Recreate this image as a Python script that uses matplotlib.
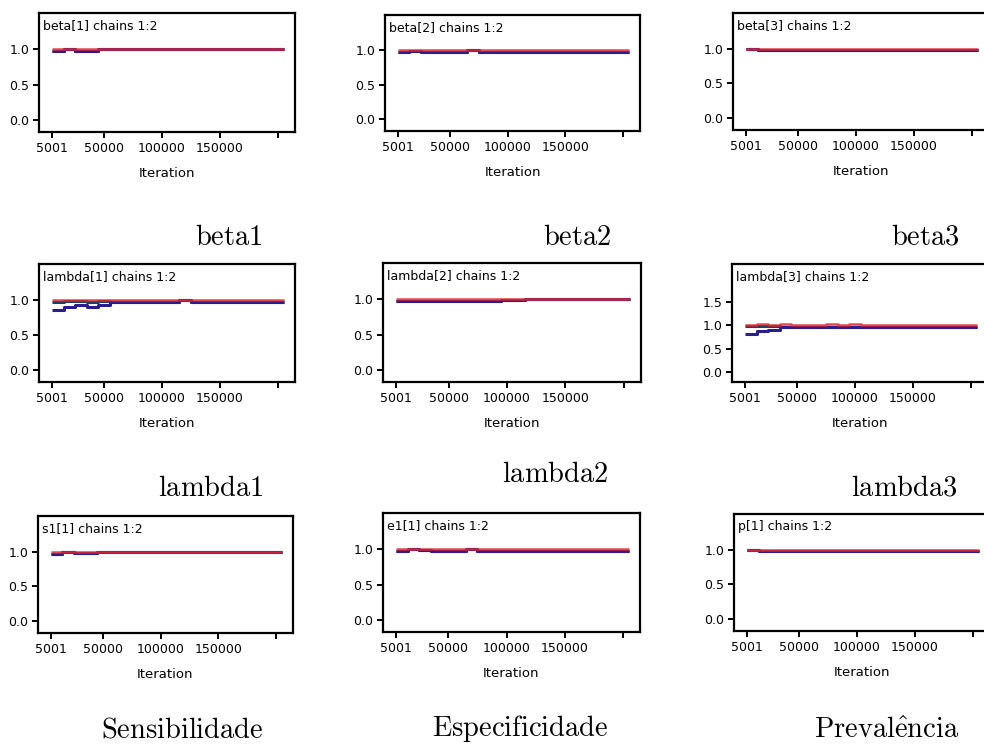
import matplotlib
matplotlib.use("Agg")
import matplotlib.pyplot as plt

plt.rcParams['mathtext.fontset'] = 'cm'

# ---------------- data ----------------
ITER = [5001, 15000, 25000, 35000, 45000, 55000, 65000, 75000, 85000, 95000, 105000,
        115000, 125000, 135000, 145000, 155000, 165000, 175000, 185000, 195000, 205000]

XTICKS = [5001, 50000, 100000, 150000, 200000]
XTICKLABELS = ["5001", "50000", "100000", "150000", ""]
YTICKS_STD = [0.0, 0.5, 1.0]
YTICKS_L3 = [0.0, 0.5, 1.0, 1.5]

TITLES = ["beta[1] chains 1:2", "beta[2] chains 1:2", "beta[3] chains 1:2",
          "lambda[1] chains 1:2", "lambda[2] chains 1:2", "lambda[3] chains 1:2",
          "s1[1] chains 1:2", "e1[1] chains 1:2", "p[1] chains 1:2"]
CAPTIONS = [r"$\mathrm{beta1}$", r"$\mathrm{beta2}$", r"$\mathrm{beta3}$",
            r"$\mathrm{lambda1}$", r"$\mathrm{lambda2}$", r"$\mathrm{lambda3}$",
            r"$\mathrm{Sensibilidade}$", r"$\mathrm{Especificidade}$", r"$\mathrm{Preval\hat{e}ncia}$"]

# BGR ratio (red), within-width (blue), pooled-width (green)
beta1_red   = [1.0, 1.0, 1.0, 1.0, 1.0, 1.0, 1.0, 1.0, 1.0, 1.0, 1.0, 1.0, 1.0, 1.0, 1.0, 1.0, 1.0, 1.0, 1.0, 1.0, 1.0]
beta1_blue  = [0.97, 1.0, 0.97, 0.98, 1.0, 1.0, 1.0, 1.0, 1.0, 1.0, 1.0, 1.0, 1.0, 1.0, 1.0, 1.0, 1.0, 1.0, 1.0, 1.0, 1.0]
beta1_green = beta1_blue

beta2_red   = [1.0, 1.0, 1.0, 1.0, 1.0, 1.0, 1.0, 1.0, 1.0, 1.0, 1.0, 1.0, 1.0, 1.0, 1.0, 1.0, 1.0, 1.0, 1.0, 1.0, 1.0]
beta2_blue  = [0.98, 0.99, 0.975, 0.975, 0.975, 0.975, 1.0, 0.975, 0.975, 0.975, 0.975, 0.975, 0.975, 0.975, 0.975, 0.975, 0.975, 0.975, 0.975, 0.975, 0.975]
beta2_green = beta2_blue

beta3_red   = [1.0, 1.0, 1.0, 1.0, 1.0, 1.0, 1.0, 1.0, 1.0, 1.0, 1.0, 1.0, 1.0, 1.0, 1.0, 1.0, 1.0, 1.0, 1.0, 1.0, 1.0]
beta3_blue  = [0.99, 0.975, 0.975, 0.975, 0.975, 0.975, 0.975, 0.975, 0.975, 0.975, 0.975, 0.975, 0.975, 0.975, 0.975, 0.975, 0.975, 0.975, 0.975, 0.975, 0.975]
beta3_green = beta3_blue

lambda1_red   = [1.0, 1.0, 1.0, 1.0, 1.0, 1.0, 1.0, 1.0, 1.0, 1.0, 1.0, 1.0, 1.0, 1.0, 1.0, 1.0, 1.0, 1.0, 1.0, 1.0, 1.0]
lambda1_blue  = [0.85, 0.90, 0.92, 0.90, 0.93, 0.975, 0.975, 0.975, 0.975, 0.975, 0.975, 1.0, 0.975, 0.975, 0.975, 0.975, 0.975, 0.975, 0.975, 0.975, 0.975]
lambda1_green = [0.97, 0.98, 0.98, 0.975, 0.98, 0.975, 0.975, 0.975, 0.975, 0.975, 0.975, 1.0, 0.975, 0.975, 0.975, 0.975, 0.975, 0.975, 0.975, 0.975, 0.975]

lambda2_red   = [1.0, 1.0, 1.0, 1.0, 1.0, 1.0, 1.0, 1.0, 1.0, 1.0, 1.0, 1.0, 1.0, 1.0, 1.0, 1.0, 1.0, 1.0, 1.0, 1.0, 1.0]
lambda2_blue  = [0.98, 0.975, 0.975, 0.975, 0.975, 0.975, 0.975, 0.975, 0.975, 0.985, 0.99, 1.0, 1.0, 1.0, 1.0, 1.0, 1.0, 1.0, 1.0, 1.0, 1.0]
lambda2_green = lambda2_blue

lambda3_red   = [1.0, 1.03, 1.0, 1.02, 1.0, 1.01, 1.0, 1.02, 1.0, 1.02, 1.01, 1.0, 1.0, 1.0, 1.0, 1.0, 1.0, 1.0, 1.0, 1.0, 1.0]
lambda3_blue  = [0.82, 0.88, 0.90, 0.965, 0.965, 0.965, 0.96, 0.96, 0.96, 0.96, 0.96, 0.96, 0.96, 0.96, 0.96, 0.96, 0.96, 0.96, 0.96, 0.96, 0.96]
lambda3_green = [0.99, 0.99, 0.98, 0.965, 0.965, 0.965, 0.96, 0.96, 0.96, 0.96, 0.96, 0.96, 0.96, 0.96, 0.96, 0.96, 0.96, 0.96, 0.96, 0.96, 0.96]

s1_red   = [1.0, 1.0, 1.0, 1.0, 1.0, 1.0, 1.0, 1.0, 1.0, 1.0, 1.0, 1.0, 1.0, 1.0, 1.0, 1.0, 1.0, 1.0, 1.0, 1.0, 1.0]
s1_blue  = [0.97, 1.0, 0.975, 0.975, 1.0, 1.0, 1.0, 1.0, 1.0, 1.0, 1.0, 1.0, 1.0, 1.0, 1.0, 1.0, 1.0, 1.0, 1.0, 1.0, 1.0]
s1_green = s1_blue

e1_red   = [1.0, 1.0, 1.0, 1.0, 1.0, 1.0, 1.0, 1.0, 1.0, 1.0, 1.0, 1.0, 1.0, 1.0, 1.0, 1.0, 1.0, 1.0, 1.0, 1.0, 1.0]
e1_blue  = [0.975, 1.0, 0.99, 0.975, 0.975, 0.975, 1.0, 0.975, 0.975, 0.975, 0.975, 0.975, 0.975, 0.975, 0.975, 0.975, 0.975, 0.975, 0.975, 0.975, 0.975]
e1_green = e1_blue

p1_red   = [1.0, 1.0, 1.0, 1.0, 1.0, 1.0, 1.0, 1.0, 1.0, 1.0, 1.0, 1.0, 1.0, 1.0, 1.0, 1.0, 1.0, 1.0, 1.0, 1.0, 1.0]
p1_blue  = [0.99, 0.975, 0.975, 0.975, 0.975, 0.975, 0.975, 0.975, 0.975, 0.975, 0.975, 0.975, 0.975, 0.975, 0.975, 0.975, 0.975, 0.975, 0.975, 0.975, 0.975]
p1_green = p1_blue

SERIES = [
    (beta1_red, beta1_blue, beta1_green),
    (beta2_red, beta2_blue, beta2_green),
    (beta3_red, beta3_blue, beta3_green),
    (lambda1_red, lambda1_blue, lambda1_green),
    (lambda2_red, lambda2_blue, lambda2_green),
    (lambda3_red, lambda3_blue, lambda3_green),
    (s1_red, s1_blue, s1_green),
    (e1_red, e1_blue, e1_green),
    (p1_red, p1_blue, p1_green),
]

# ---------------- layout (pixels) ----------------
W, H = 984, 749
# (left, top, right, bottom) of each axes box
BOXES = [
    (39, 13, 295, 132), (385, 15, 640, 131), (733, 13, 989, 130),
    (39, 264, 295, 382), (383, 263, 641, 382), (732, 264, 988, 382),
    (38, 516, 293, 633), (383, 513, 640, 632), (734, 514, 990, 631),
]
# caption centre x and baseline y
CAP_POS = [
    (229, 245), (577, 245), (925, 245),
    (211, 496), (555, 482), (904, 496),
    (182, 738), (520, 736), (887, 738),
]

RED = '#e3262c'
BLUE = '#2a1d8c'
GREEN = '#1d3f66'
TXT = "DejaVu Sans"

fig = plt.figure(figsize=(W / 100, H / 100), dpi=100)
fig.patch.set_facecolor('white')

for i, (box, title, cap, (red, blue, green)) in enumerate(zip(BOXES, TITLES, CAPTIONS, SERIES)):
    l, t, r, b = box
    ax = fig.add_axes([l / W, 1 - b / H, (r - l) / W, (b - t) / H])
    ax.plot(ITER, green, color=GREEN, lw=2.2, drawstyle='steps-post', solid_capstyle='butt')
    ax.plot(ITER, blue, color=BLUE, lw=2.2, drawstyle='steps-post', solid_capstyle='butt')
    ax.plot(ITER, red, color=RED, lw=1.8, drawstyle='steps-post', solid_capstyle='butt', alpha=0.85)
    ax.set_xlim(-6200, 214700)
    if i == 5:
        ax.set_ylim(-0.21, 2.30)
        ax.set_yticks(YTICKS_L3)
    else:
        ax.set_ylim(-0.17, 1.51)
        ax.set_yticks(YTICKS_STD)
    ax.set_yticklabels([f"{v:.1f}" for v in ax.get_yticks()], fontsize=9, family=TXT)
    ax.set_xticks(XTICKS)
    ax.set_xticklabels(XTICKLABELS, fontsize=9, family=TXT)
    ax.tick_params(direction='out', length=4, width=1.4, pad=3)
    for s in ax.spines.values():
        s.set_linewidth(1.6)
    ax.set_xlabel("Iteration", fontsize=9.5, family=TXT, labelpad=9)
    ax.text(0.015, 0.95, title, transform=ax.transAxes, ha='left', va='top',
            fontsize=9, family=TXT)
    cx, cy = CAP_POS[i]
    fig.text(cx / W, 1 - cy / H, cap, ha='center', va='baseline', fontsize=20.5)

fig.savefig("out.png", dpi=100, facecolor='white')
